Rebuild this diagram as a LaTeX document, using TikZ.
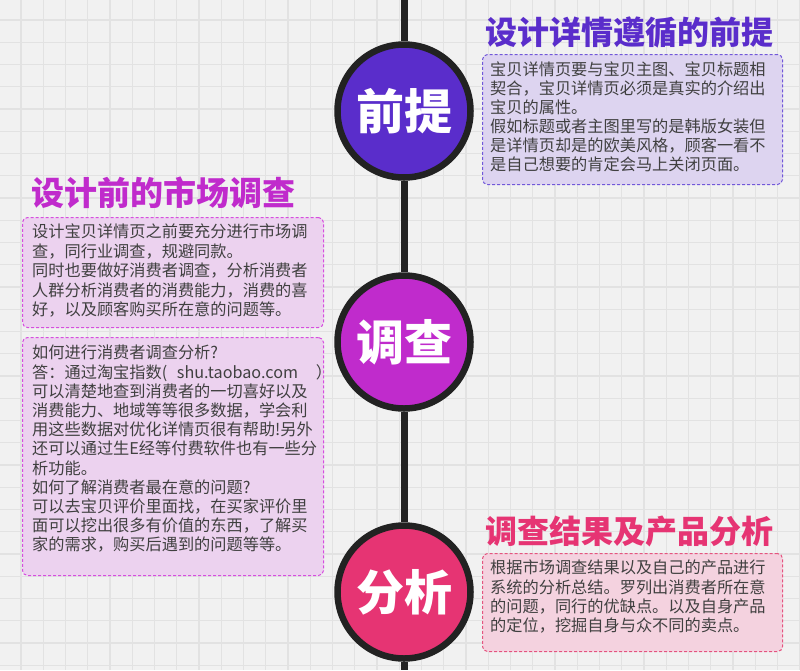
\documentclass[tikz,border=0pt]{standalone}
\usepackage{fontspec}
\setmainfont{Noto Sans CJK SC}
\usetikzlibrary{backgrounds}
\definecolor{bgc}{HTML}{F1F1F1}
\definecolor{gridc}{HTML}{E2E2E2}
\definecolor{spinec}{HTML}{222222}
\definecolor{cA}{HTML}{5A2DCB}
\definecolor{cB}{HTML}{C02BCC}
\definecolor{cC}{HTML}{E63473}
\definecolor{fA}{HTML}{DDD4F0}
\definecolor{fB}{HTML}{ECD2EF}
\definecolor{fC}{HTML}{F4D2DF}
\definecolor{dA}{HTML}{7157D9}
\definecolor{dB}{HTML}{D64DDF}
\definecolor{dC}{HTML}{E5537F}
\definecolor{txt}{HTML}{404040}
\begin{document}
\begin{tikzpicture}[x=1pt,y=-1pt,
  gridline/.style={draw=gridc,line width=1.3pt},
  spine/.style={draw=spinec,line width=7pt},
  circ/.style={circle,draw=spinec,line width=6.5pt,minimum size=133pt,inner sep=0pt,
    text=white,font=\fontsize{48}{48}\selectfont\bfseries},
  headline/.style={anchor=west,inner sep=0pt,font=\fontsize{32}{32}\selectfont\bfseries},
  panel/.style={rectangle,rounded corners=5pt,dashed,dash pattern=on 3pt off 2pt,line width=1pt,
    anchor=north west,inner sep=0pt},
  body/.style={anchor=north west,inner sep=0pt,align=left,text=txt}]
\useasboundingbox (0,0) rectangle (800,670);
% spine end points
\coordinate (top) at (404,0);
\coordinate (bot) at (404,670);
% circles
\node[circ,fill=cA] (c1) at (404,111) {前提};
\node[circ,fill=cB] (c2) at (404,342) {调查};
\node[circ,fill=cC] (c3) at (404,592) {分析};
% background, grid and spine
\begin{pgfonlayer}{background}
\fill[bgc] (0,0) rectangle (800,670);
\foreach \i in {0,...,35} \draw[gridline] ({21+22.25*\i},0) -- ({21+22.25*\i},670);
\foreach \j in {0,...,29} \draw[gridline] (0,{20+22.25*\j}) -- (800,{20+22.25*\j});
\draw[spine] (top) -- (c1.north);
\draw[spine] (c1.south) -- (c2.north);
\draw[spine] (c2.south) -- (c3.north);
\draw[spine] (c3.south) -- (bot);
\end{pgfonlayer}
% titles
\node[headline,text=cA] (h1) at (485,32) {设计详情遵循的前提};
\node[headline,text=cB,font=\fontsize{33}{33}\selectfont\bfseries] (h2) at (31,193) {设计前的市场调查};
\node[headline,text=cC] (h3) at (485,531) {调查结果及产品分析};
% panels
\node[panel,fill=fA,draw=dA,minimum width=300pt,minimum height=130pt] (p1) at (482,54) {};
\node[panel,fill=fB,draw=dB,minimum width=301pt,minimum height=110pt] (p2) at (22,217) {};
\node[panel,fill=fB,draw=dB,minimum width=301pt,minimum height=238pt] (p3) at (22,337) {};
\node[panel,fill=fC,draw=dC,minimum width=300pt,minimum height=98pt] (p4) at (482,553) {};
% texts
\node[body,font=\fontsize{16.2}{18.9}\selectfont] (t1) at (490,62) {宝贝详情页要与宝贝主图、宝贝标题相\\契合，宝贝详情页必须是真实的介绍出\\宝贝的属性。\\假如标题或者主图里写的是韩版女装但\\是详情页却是的欧美风格，顾客一看不\\是自己想要的肯定会马上关闭页面。};
\node[body,font=\fontsize{16.2}{19.5}\selectfont] (t2) at (32,224) {设计宝贝详情页之前要充分进行市场调\\查，同行业调查，规避同款。\\同时也要做好消费者调查，分析消费者\\人群分析消费者的消费能力，消费的喜\\好，以及顾客购买所在意的问题等。};
\node[body,font=\fontsize{16.2}{19.2}\selectfont] (t3) at (32,345) {如何进行消费者调查分析?\\答：通过淘宝指数(\hspace{0.6em}shu.taobao.com\hspace{1.1em}）\\可以清楚地查到消费者的一切喜好以及\\消费能力、地域等等很多数据，学会利\\用这些数据对优化详情页很有帮助!另外\\还可以通过生E经等付费软件也有一些分\\析功能。\\如何了解消费者最在意的问题?\\可以去宝贝评价里面找，在买家评价里\\面可以挖出很多有价值的东西，了解买\\家的需求，购买后遇到的问题等等。};
\node[body,font=\fontsize{16.2}{19.3}\selectfont] (t4) at (490,560) {根据市场调查结果以及自己的产品进行\\系统的分析总结。罗列出消费者所在意\\的问题，同行的优缺点。以及自身产品\\的定位，挖掘自身与众不同的卖点。};
\end{tikzpicture}
\end{document}
